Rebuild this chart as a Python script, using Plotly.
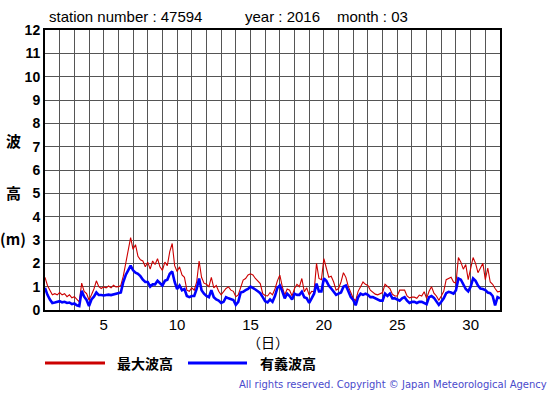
import plotly.graph_objects as go

# ---- data (4-hourly samples, day-of-month 1.0 .. 32.0) ----
steps_per_day = 6
max_wave = [
    1.4, 1.05, 0.85, 0.65, 0.7, 0.65,
    0.75, 0.65, 0.7, 0.57, 0.65, 0.52,
    0.57, 0.47, 0.35, 1.15, 0.8, 0.7,
    0.43, 0.65, 0.9, 1.25, 1.0, 0.92,
    0.99, 0.95, 1.03, 0.95, 1.06, 0.99,
    1.0, 1.05, 1.45, 2.0, 2.6, 3.1,
    2.6, 2.8, 2.3, 2.15, 2.1, 1.85,
    2.05, 1.75, 2.1, 1.95, 2.2, 1.85,
    1.7, 2.05, 1.9, 2.5, 2.85, 1.9,
    1.65, 1.85, 1.5, 1.4, 0.85, 0.8,
    0.95, 0.85, 1.2, 2.1, 1.4, 1.15,
    1.1, 1.0, 1.4, 0.95, 1.05, 0.8,
    0.65, 0.8, 0.92, 0.99, 0.85, 0.8,
    0.57, 0.65, 1.0, 1.28, 1.35, 1.5,
    1.55, 1.5, 1.35, 1.22, 1.13, 0.7,
    0.62, 0.6, 0.75, 0.65, 0.9, 1.25,
    1.5, 1.0, 0.64, 0.9, 0.85, 0.6,
    0.92, 1.1, 1.0, 1.35, 0.78, 0.95,
    0.64, 0.8, 0.78, 2.0, 1.35, 1.3,
    2.2, 1.8, 1.4, 1.45, 1.2, 0.85,
    0.92, 1.2, 1.6, 1.4, 1.0, 0.75,
    0.5, 0.4, 0.8, 1.0, 1.2, 1.1,
    1.05, 0.85, 0.78, 0.68, 0.65, 0.7,
    0.75, 1.1, 1.0, 0.92, 0.68, 0.6,
    0.6, 0.85, 0.85, 0.85, 0.6, 0.52,
    0.55, 0.55, 0.5, 0.64, 0.6, 0.78,
    0.5, 0.8, 1.0, 0.72, 0.6, 0.42,
    0.6, 0.8, 1.3, 1.35, 1.4, 1.2,
    1.15, 2.25, 2.05, 1.75, 1.95, 1.3,
    1.75, 2.25, 2.0, 1.6, 1.8, 2.0,
    1.3, 1.8, 1.2, 1.1, 0.92, 0.78,
    0.8,
]
sig_wave = [
    0.95, 0.65, 0.45, 0.3, 0.32, 0.35,
    0.38, 0.33, 0.35, 0.3, 0.32, 0.25,
    0.28, 0.2, 0.17, 0.82, 0.57, 0.43,
    0.17, 0.45, 0.57, 0.75, 0.64, 0.64,
    0.62, 0.64, 0.66, 0.64, 0.66, 0.68,
    0.7, 0.75, 1.2, 1.5, 1.7, 1.9,
    1.7, 1.6, 1.55, 1.45, 1.3, 1.2,
    1.2, 1.0, 1.1, 1.1, 1.25, 1.15,
    1.05, 1.25, 1.3, 1.55, 1.65, 1.2,
    0.9, 1.05, 0.85, 0.9, 0.6, 0.55,
    0.6, 0.6, 0.9, 1.35, 0.85, 0.7,
    0.6, 0.55, 0.85, 0.55, 0.45, 0.4,
    0.3, 0.35, 0.55, 0.5, 0.45, 0.43,
    0.22, 0.35, 0.75, 0.78, 0.85, 0.9,
    1.0, 0.95, 0.88, 0.8, 0.72, 0.55,
    0.38, 0.33, 0.45, 0.35, 0.6, 0.95,
    1.05, 0.8, 0.5, 0.7, 0.6, 0.45,
    0.7, 0.65, 0.65, 0.78, 0.55, 0.5,
    0.3, 0.5, 0.7, 1.13, 0.8, 0.8,
    1.35, 1.25, 1.05, 0.92, 0.8, 0.65,
    0.7, 0.75, 1.0, 1.05, 0.8, 0.55,
    0.43, 0.2, 0.55, 0.7, 0.65, 0.7,
    0.65, 0.55, 0.55, 0.5, 0.45, 0.4,
    0.4, 0.7, 0.6, 0.7, 0.5, 0.5,
    0.45, 0.4, 0.5, 0.55, 0.4, 0.3,
    0.35, 0.35, 0.3, 0.35, 0.35, 0.3,
    0.25, 0.55, 0.6, 0.52, 0.38, 0.22,
    0.35, 0.5, 0.72, 0.78, 0.75, 0.7,
    0.85, 1.35, 1.3, 1.1, 0.9, 0.8,
    1.0, 1.35, 1.25, 1.05, 0.92, 0.9,
    0.85, 0.75, 0.72, 0.6, 0.2, 0.55,
    0.5,
]
days = [1 + i / steps_per_day for i in range(len(max_wave))]

x_tick_days = list(range(1, 33))
x_label_days = [5, 10, 15, 20, 25, 30]
y_ticks = list(range(0, 13))

series_names = ["最大波高", "有義波高"]
series_colors = ["#cc0000", "#0000ff"]

title_parts = ["station number : 47594", "year : 2016", "month : 03"]
y_title_parts = ["波", "高", "(m)"]
x_title = "（日）"
copyright_text = "All rights reserved. Copyright © Japan Meteorological Agency"

# ---- figure ----
W, H = 555, 395
L, R, T, B = 45, 55, 29.5, 85
pw, ph = W - L - R, H - T - B

def px(xp):
    return (xp - L) / pw

def py(yp):
    return (H - B - yp) / ph

fig = go.Figure()
fig.add_trace(go.Scatter(x=days, y=max_wave, mode="lines", name=series_names[0],
                         line=dict(color=series_colors[0], width=1.1)))
fig.add_trace(go.Scatter(x=days, y=sig_wave, mode="lines", name=series_names[1],
                         line=dict(color=series_colors[1], width=2.6)))

sans = "Liberation Sans, Arial, sans-serif"
cjk = "Noto Sans CJK JP, sans-serif"

fig.update_layout(
    width=W, height=H,
    margin=dict(l=L, r=R, t=T, b=B),
    paper_bgcolor="white", plot_bgcolor="white",
    showlegend=False,
    font=dict(family=sans, color="black"),
)
fig.update_xaxes(
    range=[1, 32], tickmode="array", tickvals=x_tick_days,
    ticktext=[str(d) if d in x_label_days else "" for d in x_tick_days],
    showgrid=True, gridcolor="#555555", gridwidth=1,
    showline=True, linecolor="black", linewidth=2, mirror=True,
    ticks="", zeroline=False, tickfont=dict(size=15, family=sans, color="black"),
)
fig.update_yaxes(
    range=[0, 12], tickmode="array", tickvals=y_ticks,
    ticktext=[str(v) for v in y_ticks],
    showgrid=True, gridcolor="#555555", gridwidth=1,
    showline=True, linecolor="black", linewidth=2, mirror=True,
    ticks="", zeroline=False,
    tickfont=dict(size=14, family=sans, color="black", weight="bold"),
)

ann = []
for txt, xpix in zip(title_parts, [47, 243, 335]):
    ann.append(dict(text=txt, x=px(xpix), y=py(16), xref="paper", yref="paper",
                    xanchor="left", yanchor="middle", showarrow=False,
                    font=dict(size=15, family=sans, color="black")))
for txt, ypix in zip(y_title_parts, [140, 192, 238]):
    ann.append(dict(text=txt, x=px(13), y=py(ypix), xref="paper", yref="paper",
                    xanchor="center", yanchor="middle", showarrow=False,
                    font=dict(size=15, family=cjk, color="black", weight="bold")))
ann.append(dict(text=x_title, x=px(268), y=py(342), xref="paper", yref="paper",
                xanchor="center", yanchor="middle", showarrow=False,
                font=dict(size=14, family=cjk, color="black")))
for txt, xpix in zip(series_names, [115, 258]):
    ann.append(dict(text=txt, x=px(xpix), y=py(363), xref="paper", yref="paper",
                    xanchor="left", yanchor="middle", showarrow=False,
                    font=dict(size=14, family=cjk, color="black", weight="bold")))
ann.append(dict(text=copyright_text, x=px(549), y=py(385), xref="paper", yref="paper",
                xanchor="right", yanchor="middle", showarrow=False,
                font=dict(size=10, family="DejaVu Sans, sans-serif", color="#4a4acc")))
fig.update_layout(annotations=ann)

shapes = []
for col, (x0, x1) in zip(series_colors, [(45, 105), (188, 247)]):
    shapes.append(dict(type="line", xref="paper", yref="paper",
                       x0=px(x0), x1=px(x1), y0=py(363), y1=py(363),
                       line=dict(color=col, width=3)))
fig.update_layout(shapes=shapes)

fig.write_html(
    "out.html",
    config={"displayModeBar": False},
    post_script="document.body.style.margin='0';document.body.style.overflow='hidden';",
)
